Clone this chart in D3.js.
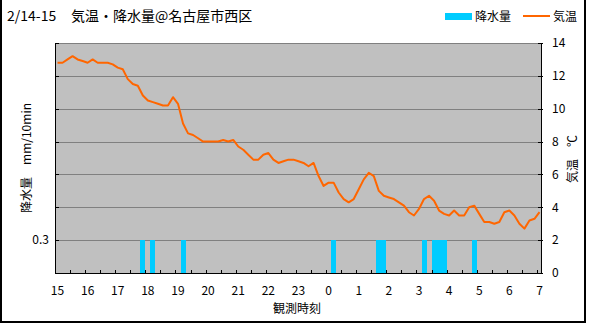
<!DOCTYPE html>
<html>
<head>
<meta charset="utf-8">
<script src="https://cdn.jsdelivr.net/npm/d3@7"></script>
<style>
  body { margin: 0; background: #fff; }
  svg { display: block; }
  text { font-family: "Noto Sans CJK JP", "Noto Sans", sans-serif; fill: #000; }
</style>
</head>
<body>
<svg id="chart" width="589" height="323"></svg>
<script>
// ---- data -------------------------------------------------------------
const dateLabel = "2/14-15";
const titleText = "気温・降水量@名古屋市西区";
const legendRain = "降水量";
const legendTemp = "気温";
const leftTitle = "降水量　mm/10min";
const rightTitle = "気温　℃";
const xTitle = "観測時刻";

// hourly tick labels along the time axis
const hourLabels = ["15","16","17","18","19","20","21","22","23","0","1","2","3","4","5","6","7"];

// 10-minute observation slots, 15:00 on the 14th through 7:00 on the 15th
const startHour = 15;
const slotMinutes = 10;
const slotCount = 97;

// air temperature (°C), one value per 10-minute slot
const temperature = [
  12.8, 12.8, 13.0, 13.2, 13.0, 12.9, 12.8, 13.0, 12.8, 12.8,
  12.8, 12.7, 12.5, 12.4, 11.8, 11.5, 11.4, 10.8, 10.5, 10.4,
  10.3, 10.2, 10.2, 10.7, 10.3,  9.1,  8.5,  8.4,  8.2,  8.0,
   8.0,  8.0,  8.0,  8.1,  8.0,  8.1,  7.7,  7.5,  7.2,  6.9,
   6.9,  7.2,  7.3,  6.9,  6.7,  6.8,  6.9,  6.9,  6.8,  6.7,
   6.5,  6.7,  5.9,  5.3,  5.5,  5.5,  4.9,  4.5,  4.3,  4.5,
   5.1,  5.7,  6.1,  5.9,  5.0,  4.7,  4.6,  4.5,  4.3,  4.1,
   3.7,  3.5,  3.9,  4.5,  4.7,  4.4,  3.8,  3.6,  3.5,  3.8,
   3.5,  3.5,  4.0,  4.1,  3.6,  3.1,  3.1,  3.0,  3.1,  3.7,
   3.8,  3.5,  3.0,  2.7,  3.2,  3.3,  3.7
];

// precipitation (mm per 10 min), one value per slot
const precipitation = [
  0, 0, 0, 0, 0, 0, 0, 0, 0, 0,
  0, 0, 0, 0, 0, 0, 0, 0.3, 0, 0.3,
  0, 0, 0, 0, 0, 0.3, 0, 0, 0, 0,
  0, 0, 0, 0, 0, 0, 0, 0, 0, 0,
  0, 0, 0, 0, 0, 0, 0, 0, 0, 0,
  0, 0, 0, 0, 0, 0.3, 0, 0, 0, 0,
  0, 0, 0, 0, 0.3, 0.3, 0, 0, 0, 0,
  0, 0, 0, 0.3, 0, 0.3, 0.3, 0.3, 0, 0,
  0, 0, 0, 0.3, 0, 0, 0, 0, 0, 0,
  0, 0, 0, 0, 0, 0, 0
];

const tempTicks = [0, 2, 4, 6, 8, 10, 12, 14];
const precipTicks = [0.3];
const precipMax = 2.1;

// ---- layout -----------------------------------------------------------
const plot = { left: 55, right: 542, top: 43, bottom: 273 };
const colors = { plot: "#c0c0c0", grid: "#808080", rain: "#00ccff", temp: "#ff6600" };

const pad = n => (n < 10 ? "0" : "") + n;
const slots = d3.range(slotCount).map(i => {
  const m = startHour * 60 + i * slotMinutes;
  return pad(Math.floor(m / 60) % 24) + ":" + pad(m % 60);
});

const svg = d3.select("#chart");

const x = d3.scaleBand().domain(slots).range([plot.left, plot.right]).padding(0);
const yT = d3.scaleLinear().domain([0, 14]).range([plot.bottom, plot.top]);
const yP = d3.scaleLinear().domain([0, precipMax]).range([plot.bottom, plot.top]);
const crisp = v => Math.round(v) + 0.5;

// plot background
svg.append("rect")
  .attr("x", plot.left).attr("y", plot.top)
  .attr("width", plot.right - plot.left).attr("height", plot.bottom - plot.top)
  .attr("fill", colors.plot);

// horizontal grid lines
svg.append("g").selectAll("line")
  .data(tempTicks.filter(t => t > 0))
  .join("line")
  .attr("x1", plot.left).attr("x2", plot.right)
  .attr("y1", d => crisp(yT(d))).attr("y2", d => crisp(yT(d)))
  .attr("stroke", colors.grid).attr("stroke-width", 1);

// precipitation bars
const data = slots.map((s, i) => ({ slot: s, temp: temperature[i], rain: precipitation[i] }));
svg.append("g").attr("shape-rendering", "crispEdges").selectAll("rect")
  .data(data.filter(d => d.rain > 0))
  .join("rect")
  .attr("x", d => x(d.slot))
  .attr("width", x.bandwidth())
  .attr("y", d => yP(d.rain))
  .attr("height", d => yP(0) - yP(d.rain))
  .attr("fill", colors.rain);

// temperature line
svg.append("path")
  .datum(data)
  .attr("fill", "none")
  .attr("stroke", colors.temp)
  .attr("stroke-width", 2)
  .attr("stroke-linejoin", "round")
  .attr("d", d3.line().x(d => x(d.slot) + x.bandwidth() / 2).y(d => yT(d.temp)));

// axis frame lines
const axes = svg.append("g").attr("stroke", "#000").attr("stroke-width", 1).attr("shape-rendering", "crispEdges");
axes.append("line").attr("x1", plot.left + 0.5).attr("x2", plot.left + 0.5).attr("y1", plot.top).attr("y2", plot.bottom + 1);
axes.append("line").attr("x1", plot.right - 0.5).attr("x2", plot.right - 0.5).attr("y1", plot.top).attr("y2", plot.bottom + 1);
axes.append("line").attr("x1", plot.left).attr("x2", plot.right).attr("y1", crisp(plot.bottom)).attr("y2", crisp(plot.bottom));

// inward tick marks on the value axes
tempTicks.forEach(t => {
  const yy = crisp(yT(t));
  axes.append("line").attr("x1", plot.left).attr("x2", plot.left + 4).attr("y1", yy).attr("y2", yy);
  axes.append("line").attr("x1", plot.right - 4).attr("x2", plot.right + 1).attr("y1", yy).attr("y2", yy);
});

// half-hour ticks along the time axis
slots.filter(s => s.endsWith(":00") || s.endsWith(":30")).forEach(s => {
  const xx = crisp(x(s));
  axes.append("line").attr("x1", xx).attr("x2", xx).attr("y1", plot.bottom - 3).attr("y2", plot.bottom);
});

// right axis labels (temperature)
svg.append("g").selectAll("text")
  .data(tempTicks)
  .join("text")
  .attr("x", plot.right + 10)
  .attr("y", d => yT(d))
  .attr("dy", "0.36em")
  .attr("font-size", 12)
  .text(d => d);

// left axis labels (precipitation)
svg.append("g").selectAll("text")
  .data(precipTicks)
  .join("text")
  .attr("x", plot.left - 6)
  .attr("y", d => yP(d))
  .attr("dy", "0.36em")
  .attr("text-anchor", "end")
  .attr("font-size", 12)
  .text(d => d);

// hour labels
svg.append("g").selectAll("text")
  .data(hourLabels)
  .join("text")
  .attr("x", h => x(pad(+h) + ":00") + x.bandwidth() / 2)
  .attr("y", 295)
  .attr("text-anchor", "middle")
  .attr("font-size", 12)
  .text(h => h);

// axis titles
svg.append("text")
  .attr("x", 297).attr("y", 313)
  .attr("text-anchor", "middle").attr("font-size", 12)
  .text(xTitle);
svg.append("text")
  .attr("transform", "translate(27,158) rotate(-90)")
  .attr("text-anchor", "middle").attr("dy", "0.36em").attr("font-size", 12)
  .text(leftTitle);
svg.append("text")
  .attr("transform", "translate(573,159) rotate(-90)")
  .attr("text-anchor", "middle").attr("dy", "0.36em").attr("font-size", 12)
  .text(rightTitle);

// title
svg.append("text").attr("x", 7).attr("y", 21).attr("font-size", 14).text(dateLabel);
svg.append("text").attr("x", 71).attr("y", 21).attr("font-size", 14).text(titleText);

// legend
svg.append("rect").attr("x", 445).attr("y", 13).attr("width", 27).attr("height", 7).attr("fill", colors.rain);
svg.append("text").attr("x", 475).attr("y", 21).attr("font-size", 12).text(legendRain);
svg.append("line").attr("x1", 523).attr("x2", 550).attr("y1", 16).attr("y2", 16)
  .attr("stroke", colors.temp).attr("stroke-width", 2);
svg.append("text").attr("x", 553).attr("y", 21).attr("font-size", 12).text(legendTemp);

// outer frame (left, bottom, right)
svg.append("path")
  .attr("d", "M1,0V322H585V0")
  .attr("fill", "none").attr("stroke", "#000").attr("stroke-width", 2);
</script>
</body>
</html>
